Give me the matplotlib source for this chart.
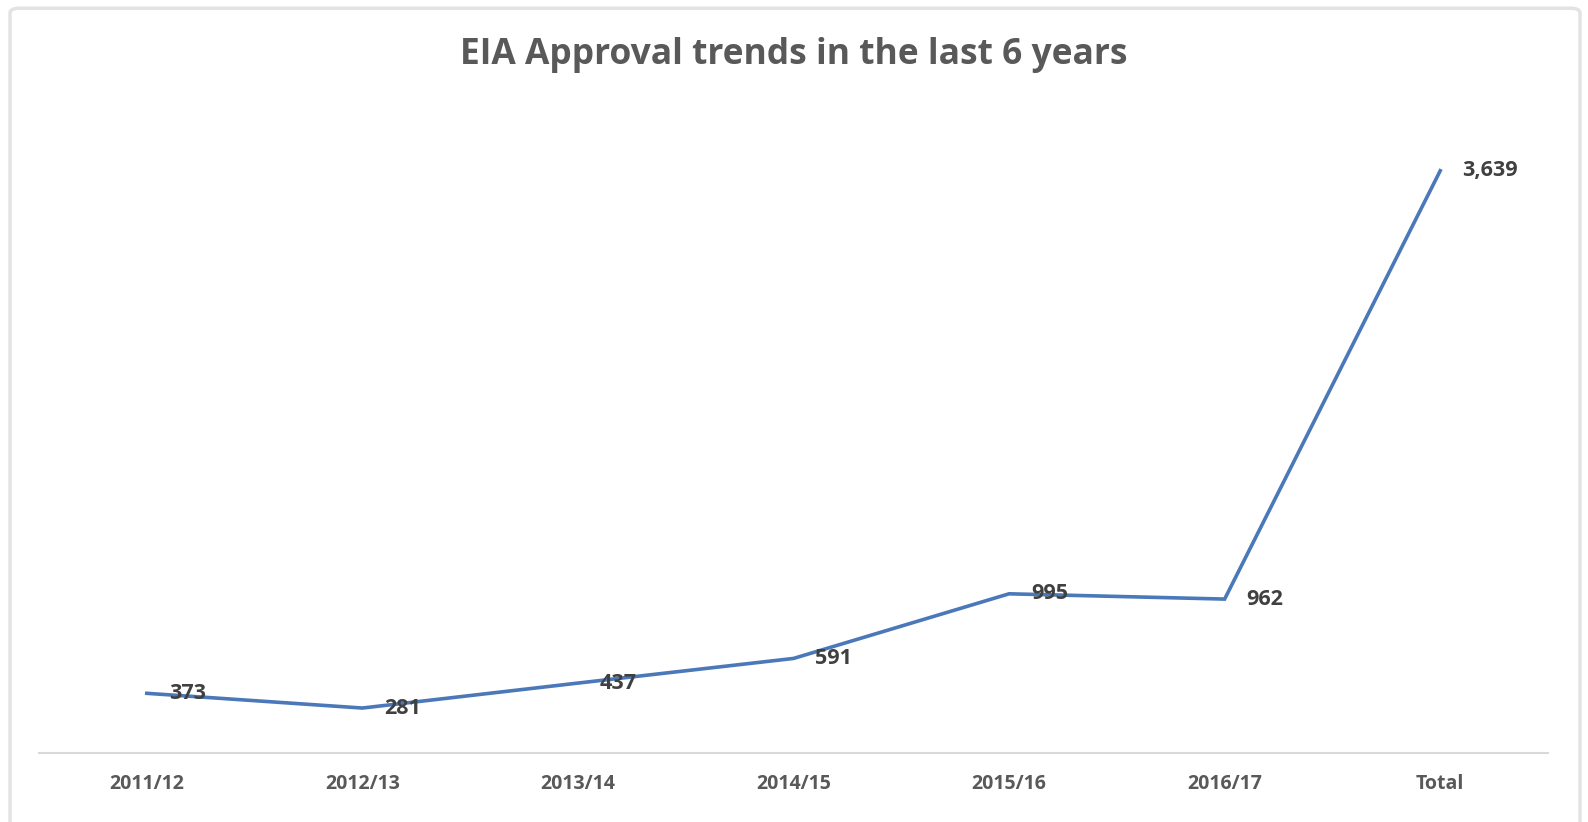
import matplotlib.pyplot as plt
from matplotlib.patches import FancyBboxPatch

categories = ['2011/12', '2012/13', '2013/14', '2014/15', '2015/16', '2016/17', 'Total']
approvals = [373, 281, 437, 591, 995, 962, 3639]
title = 'EIA Approval trends in the last 6 years'

plt.rcParams['font.family'] = ['Open Sans', 'DejaVu Sans']

fig = plt.figure(figsize=(15.88, 8.22), dpi=100)
# chart frame like excel's chart area
frame = FancyBboxPatch((10/1588, -0.05), 1570/1588, 1.04, transform=fig.transFigure,
                       boxstyle='round,pad=0,rounding_size=0.006', facecolor='white',
                       edgecolor='#e3e3e3', linewidth=2.5, zorder=-10)
fig.patches.append(frame)

ax = fig.add_axes([39/1588, 69/822, 1509/1588, 640/822])
ax.set_facecolor('none')
x = list(range(len(categories)))
ax.plot(x, approvals, color='#4a78b8', linewidth=2.6, solid_joinstyle='miter')

for xi, v in zip(x, approvals):
    ax.annotate(f'{v:,}', (xi, v), xytext=(22, 0), textcoords='offset pixels',
                ha='left', va='center', fontsize=15.5, fontweight='bold', color='#404040')

ax.set_xlim(-0.5, len(categories) - 0.5)
ax.set_ylim(0, 4000)
ax.set_xticks(x)
ax.set_xticklabels(categories, fontsize=14, fontweight='bold', color='#595959')
ax.tick_params(axis='x', length=0, pad=15)
ax.set_yticks([])
for s in ['top', 'right', 'left']:
    ax.spines[s].set_visible(False)
ax.spines['bottom'].set_color('#d9d9d9')
ax.spines['bottom'].set_linewidth(1.5)

fig.text(794/1588, 1 - 55/822, title, ha='center', va='center', fontsize=25.5,
         fontweight='bold', color='#595959')

fig.savefig('out.png', dpi=100)
